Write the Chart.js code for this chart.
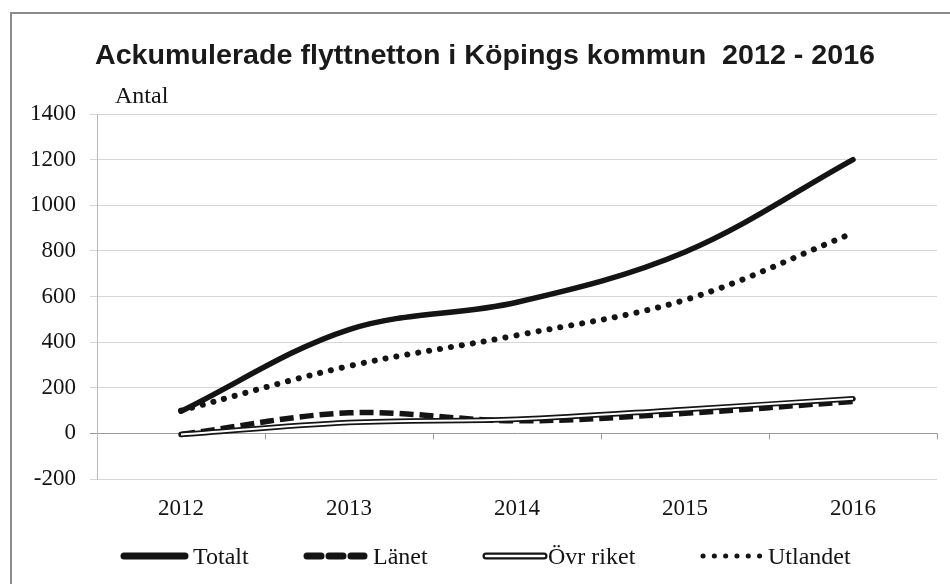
<!DOCTYPE html>
<html lang="sv">
<head>
    <meta charset="UTF-8">
    <title>Ackumulerade flyttnetton i Köpings kommun 2012 - 2016</title>
    <script src="https://cdn.jsdelivr.net/npm/chart.js"></script>
    <style>
        body { margin: 0; background: #fff; }
        #frame { position: absolute; left: 10px; top: 12px; width: 960px; height: 600px; border: 2px solid #8c8c8c; box-sizing: border-box; }
        #chart { position: absolute; left: 0; top: 0; }
    </style>
</head>
<body>
    <div id="frame"></div>
    <canvas id="chart" width="950" height="584"></canvas>

    <script>
        // Data
        const years = ['2012', '2013', '2014', '2015', '2016'];
        const totalt = [97, 455, 575, 795, 1200];
        const lanet = [-5, 90, 55, 88, 140];
        const ovrRiket = [-5, 48, 62, 105, 152];
        const utlandet = [100, 295, 430, 585, 878];
        const yMin = -200, yMax = 1400, yStep = 200;

        const titleText = 'Ackumulerade flyttnetton i Köpings kommun  2012 - 2016';
        const serif = "'Liberation Serif', 'Times New Roman', serif";
        const ink = '#141414';

        // Title, "Antal" label, x-axis ticks on the zero line and the line legend
        const decorations = {
            id: 'decorations',
            beforeDatasetsDraw(chart) {
                const ctx = chart.ctx;
                const x = chart.scales.x, y = chart.scales.y;
                const y0 = y.getPixelForValue(0);
                const step = (x.right - x.left) / years.length;
                ctx.save();
                ctx.strokeStyle = '#9a9a9a';
                ctx.lineWidth = 1;
                for (let i = 1; i <= years.length; i++) {
                    const px = Math.round(x.left + i * step) + 0.5;
                    ctx.beginPath();
                    ctx.moveTo(px, y0);
                    ctx.lineTo(px, y0 + 6);
                    ctx.stroke();
                }
                ctx.restore();
            },
            afterDraw(chart) {
                const ctx = chart.ctx;
                ctx.save();
                ctx.fillStyle = '#1a1a1a';
                ctx.font = "bold 28px 'Liberation Sans', Arial, sans-serif";
                const w = ctx.measureText(titleText).width;
                ctx.translate(95, 64);
                ctx.scale(780 / w, 1);
                ctx.fillText(titleText, 0, 0);
                ctx.restore();

                ctx.save();
                ctx.fillStyle = ink;
                ctx.font = '24px ' + serif;
                ctx.fillText('Antal', 115, 103);

                // legend
                const ly = 556;
                const items = [
                    { label: 'Totalt', x0: 121, x1: 188, tx: 193, kind: 'solid' },
                    { label: 'Länet', x0: 304, x1: 367, tx: 373, kind: 'dash' },
                    { label: 'Övr riket', x0: 483, x1: 547, tx: 548, kind: 'double' },
                    { label: 'Utlandet', x0: 700, x1: 765, tx: 768, kind: 'dot' }
                ];
                items.forEach(it => {
                    ctx.save();
                    ctx.strokeStyle = ink;
                    ctx.lineCap = 'round';
                    ctx.lineWidth = 7;
                    if (it.kind === 'dash') { ctx.setLineDash([14, 8]); }
                    if (it.kind === 'dot') { ctx.lineWidth = 5; ctx.setLineDash([0.1, 11.2]); }
                    ctx.beginPath();
                    ctx.moveTo(it.x0 + 3, ly);
                    ctx.lineTo(it.x1 - 3, ly);
                    ctx.stroke();
                    if (it.kind === 'double') {
                        ctx.strokeStyle = '#fff';
                        ctx.lineWidth = 2.5;
                        ctx.beginPath();
                        ctx.moveTo(it.x0 + 3, ly);
                        ctx.lineTo(it.x1 - 3, ly);
                        ctx.stroke();
                    }
                    ctx.restore();
                    ctx.fillText(it.label, it.tx, 564);
                });
                ctx.restore();
            }
        };

        const base = { pointRadius: 0, tension: 0.35, borderColor: ink, fill: false };

        new Chart(document.getElementById('chart'), {
            type: 'line',
            data: {
                labels: years,
                datasets: [
                    { ...base, label: 'Totalt', data: totalt, borderWidth: 5.5, borderCapStyle: 'round', order: 2 },
                    { ...base, label: 'Länet', data: lanet, borderWidth: 5.5, borderDash: [14, 6], order: 3 },
                    { ...base, label: 'Övr riket', data: ovrRiket, borderWidth: 5.5, borderCapStyle: 'round', order: 4 },
                    { ...base, label: 'Övr riket (inre)', data: ovrRiket, borderWidth: 2, borderColor: '#fff', order: 1 },
                    { ...base, label: 'Utlandet', data: utlandet, borderWidth: 6, borderDash: [0.1, 11], borderCapStyle: 'round', order: 5 }
                ]
            },
            options: {
                responsive: false,
                animation: false,
                layout: { padding: { left: 0, top: 114, right: 13, bottom: 0 } },
                plugins: {
                    legend: { display: false },
                    title: { display: false },
                    tooltip: { enabled: false }
                },
                scales: {
                    x: {
                        offset: true,
                        grid: { display: false, drawTicks: false },
                        border: { display: false },
                        ticks: { color: ink, font: { family: serif, size: 23 }, padding: 16, maxRotation: 0 },
                        afterFit(scale) { scale.height = 105; }
                    },
                    y: {
                        min: yMin,
                        max: yMax,
                        ticks: {
                            stepSize: yStep,
                            color: ink,
                            font: { family: serif, size: 23 },
                            padding: 14,
                            callback: v => String(v)
                        },
                        grid: {
                            color: ctx => ctx.tick && ctx.tick.value === 0 ? '#9a9a9a' : '#d6d6d6',
                            tickLength: 7,
                            lineWidth: 1
                        },
                        border: { display: true, color: '#b8b8b8' },
                        afterFit(scale) { scale.width = 97; }
                    }
                }
            },
            plugins: [decorations]
        });
    </script>
</body>
</html>
